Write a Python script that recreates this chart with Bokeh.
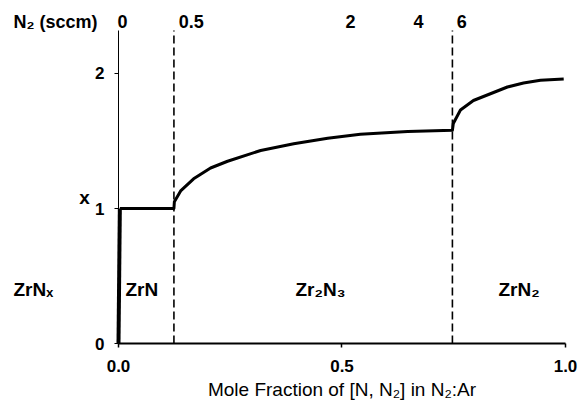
from bokeh.plotting import figure
from bokeh.models import Range1d, FixedTicker, Label
from bokeh.core.properties import value
from bokeh.embed import file_html
from bokeh.resources import INLINE

# Data
mole_fraction = [0.0, 0.003, 0.124, 0.125, 0.139, 0.168, 0.206, 0.244, 0.318, 0.392,
                 0.468, 0.541, 0.570, 0.647, 0.747, 0.749, 0.765, 0.794, 0.832,
                 0.870, 0.906, 0.944, 0.996]
x_value = [0.0, 1.0, 1.0, 1.05, 1.13, 1.22, 1.30, 1.35, 1.43, 1.48,
           1.52, 1.55, 1.555, 1.57, 1.58, 1.63, 1.73, 1.80, 1.85,
           1.90, 1.93, 1.95, 1.96]

boundaries = [0.124, 0.747]

x_ticks = [0.0, 0.5, 1.0]
x_tick_labels = ["0.0", "0.5", "1.0"]
y_ticks = [0, 1, 2]
y_top = 2.3185

sccm_pos = [0.009, 0.163, 0.519, 0.671, 0.768]
sccm_labels = ["0", "0.5", "2", "4", "6"]

phase_labels = ["ZrNₓ", "ZrN", "Zr₂N₃", "ZrN₂"]
phase_x = [-0.2349, 0.0157, 0.396, 0.850]
phase_y = 0.40

FONT = "Liberation Sans"

# frame fills the whole canvas; axes are pinned at x=0 / y=0
p = figure(width=579, height=400, output_backend="svg", toolbar_location=None,
           x_range=Range1d(-0.26398, 1.03132), y_range=Range1d(-0.42222, 2.54074),
           min_border=0)
p.outline_line_color = None
p.xgrid.visible = False
p.ygrid.visible = False
p.background_fill_color = "white"
p.border_fill_color = "white"

p.xaxis.ticker = FixedTicker(ticks=x_ticks)
p.xaxis.major_label_overrides = dict(zip(x_ticks, x_tick_labels))
p.yaxis.ticker = FixedTicker(ticks=y_ticks)
p.xaxis.fixed_location = 0
p.yaxis.fixed_location = 0
p.xaxis.bounds = (0, 1)
p.yaxis.bounds = (0, y_top)
for ax in (p.xaxis[0], p.yaxis[0]):
    ax.minor_tick_line_color = None
    ax.major_tick_in = 0
    ax.major_tick_out = 4
    ax.major_tick_line_color = "black"
    ax.axis_line_color = "black"
    ax.major_label_text_font = FONT
    ax.major_label_text_font_style = "bold"
    ax.major_label_text_font_size = "17px"
    ax.major_label_text_color = "black"
p.xaxis.axis_line_width = 2
p.xaxis.major_tick_line_width = 1.5
p.yaxis.axis_line_width = 1
p.xaxis.major_label_standoff = 12
p.yaxis.major_label_standoff = 10

# phase boundaries (dashed)
p.segment(x0=boundaries, y0=[0] * len(boundaries), x1=boundaries,
          y1=[y_top] * len(boundaries), line_color="black", line_width=1.6,
          line_dash="8 4")

# data line
p.line(mole_fraction[:2], x_value[:2], line_color="black", line_width=4)
p.line(mole_fraction[1:], x_value[1:], line_color="black", line_width=3,
       line_join="round")

# top scale: N2 flow (sccm)
p.text(x=sccm_pos, y=[2.385] * len(sccm_pos), text=sccm_labels, text_font=value(FONT),
       text_font_style="bold", text_font_size="18px", text_align="center",
       text_baseline="middle", text_color="black")
p.add_layout(Label(x=-0.2349, y=2.385, text="N₂ (sccm)", text_font=FONT,
                   text_font_style="bold", text_font_size="18px",
                   text_baseline="middle", text_color="black"))

# phase labels
for t, xx in zip(phase_labels, phase_x):
    p.add_layout(Label(x=xx, y=phase_y, text=t, text_font=FONT, text_font_style="bold",
                       text_font_size="19px", text_baseline="middle", text_color="black"))

# axis titles
p.add_layout(Label(x=-0.076, y=1.08, text="x", text_font=FONT, text_font_style="bold",
                   text_font_size="19px", text_baseline="middle", text_align="center",
                   text_color="black"))
p.add_layout(Label(x=0.5, y=-0.3407, text="Mole Fraction of [N, N₂] in N₂:Ar",
                   text_font=FONT, text_font_size="19px", text_baseline="middle",
                   text_align="center", text_color="black"))

open("out.html", "w").write(file_html(p, INLINE))
